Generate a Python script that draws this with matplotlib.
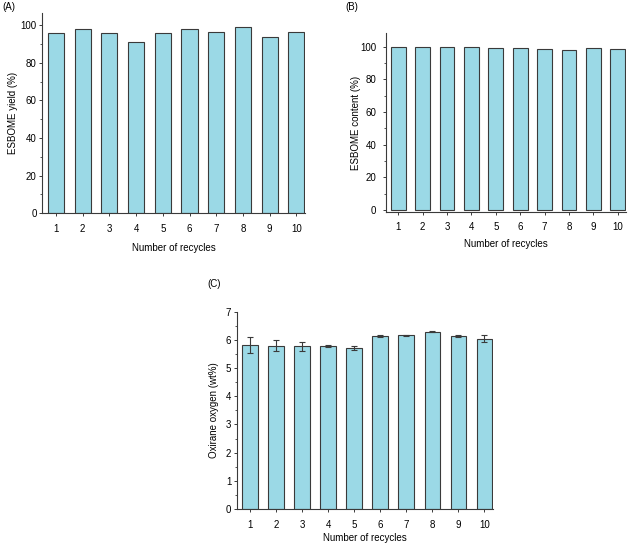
import matplotlib
matplotlib.use("Agg")
import matplotlib.pyplot as plt
from matplotlib.ticker import MultipleLocator
import numpy as np

plt.rcParams["font.family"] = ["Liberation Sans", "DejaVu Sans"]
plt.rcParams["font.size"] = 7

recycles = np.arange(1, 11)
yield_pct = [95.6, 97.7, 95.6, 91.0, 95.9, 97.7, 96.1, 99.1, 93.6, 96.5]
content_pct = [100.0, 100.0, 99.6, 99.6, 99.4, 99.2, 98.6, 97.8, 99.0, 98.8]
oxirane = [5.83, 5.80, 5.77, 5.79, 5.71, 6.14, 6.16, 6.29, 6.14, 6.05]
oxirane_err = [0.28, 0.20, 0.17, 0.03, 0.08, 0.02, 0.01, 0.01, 0.02, 0.11]

bar_color = "#9bd9e6"
edge = "#3a3a3a"

fig = plt.figure(figsize=(6.3, 5.45), dpi=100)
axA = fig.add_axes([0.0667, 0.6086, 0.4173, 0.3674])
axB = fig.add_axes([0.612, 0.6117, 0.381, 0.327])
axC = fig.add_axes([0.3757, 0.066, 0.4063, 0.362])


def style(ax, ylim, major, minor, ylabel, ypad, ylab_x, xlab_y):
    ax.spines["top"].set_visible(False)
    ax.spines["right"].set_visible(False)
    for s in ("left", "bottom"):
        ax.spines[s].set_color(edge)
        ax.spines[s].set_linewidth(0.8)
    ax.set_xlim(0.48, 10.32)
    ax.set_ylim(*ylim)
    ax.set_xticks(recycles)
    ax.yaxis.set_major_locator(MultipleLocator(major))
    ax.yaxis.set_minor_locator(MultipleLocator(minor))
    ax.tick_params(axis="both", which="major", direction="out", length=2.2,
                   width=0.7, color=edge, labelsize=7)
    ax.tick_params(axis="x", which="major", pad=5.5)
    ax.tick_params(axis="y", which="major", pad=ypad)
    ax.tick_params(axis="y", which="minor", direction="out", length=1.3,
                   width=0.6, color=edge)
    ax.set_xlabel("Number of recycles", fontsize=7)
    ax.set_ylabel(ylabel, fontsize=7)
    ax.yaxis.set_label_coords(ylab_x, 0.5)
    ax.xaxis.set_label_coords(0.5, xlab_y)


axA.bar(recycles, yield_pct, width=0.6, color=bar_color, edgecolor=edge,
        linewidth=0.8)
style(axA, (0, 106.4), 20, 10, "ESBOME yield (%)", 1.7, -0.093, -0.146)

axB.bar(recycles, content_pct, width=0.6, color=bar_color, edgecolor=edge,
        linewidth=0.8)
style(axB, (-1.0, 108.2), 20, 10, "ESBOME content (%)", 4.5, -0.102, -0.156)

axC.bar(recycles, oxirane, width=0.6, color=bar_color, edgecolor=edge,
        linewidth=0.8, yerr=oxirane_err,
        error_kw=dict(ecolor=edge, elinewidth=0.8, capsize=2.2, capthick=0.8))
style(axC, (0, 7), 1, 0.5, "Oxirane oxygen (wt%)", 1.7, -0.071, -0.124)

fig.text(0.003, 0.987, "(A)", fontsize=7, va="center")
fig.text(0.549, 0.987, "(B)", fontsize=7, va="center")
fig.text(0.329, 0.479, "(C)", fontsize=7, va="center")

fig.savefig("out.png", dpi=100)
